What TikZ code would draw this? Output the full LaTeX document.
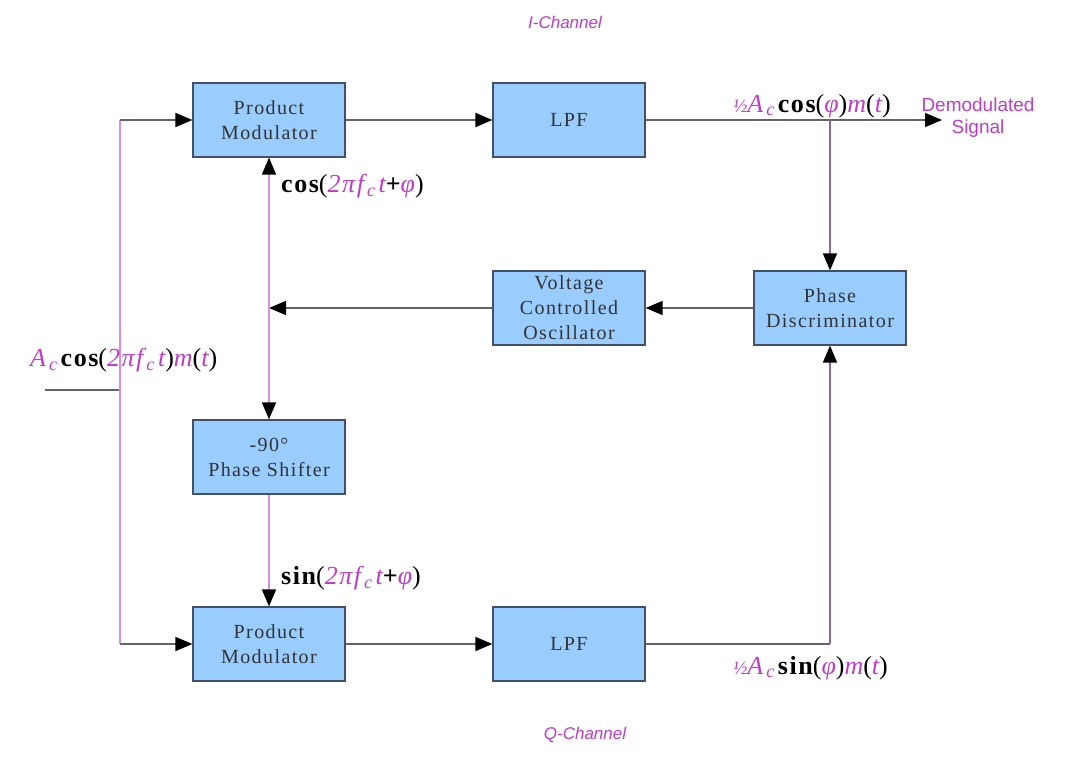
\documentclass[tikz,border=0pt]{standalone}
\usepackage{fontspec}
\setmainfont{Liberation Serif}
\newfontfamily\arialf{Liberation Sans}
\newfontfamily\boxf[LetterSpace=7]{Liberation Serif}
\newfontfamily\labf[LetterSpace=6]{Liberation Serif}
\usetikzlibrary{arrows.meta}
\definecolor{boxfill}{RGB}{153,204,255}
\definecolor{boxline}{RGB}{70,80,100}
\definecolor{pur}{RGB}{190,60,200}
\definecolor{vline}{RGB}{220,140,225}
\definecolor{vlined}{RGB}{140,100,150}
\definecolor{hline}{RGB}{100,100,100}
\tikzset{
  blk/.style={draw=boxline, line width=1.2pt, fill=boxfill, minimum width=152pt, minimum height=74pt, align=center, font=\boxf\fontsize{20}{25}\selectfont, text=black!80, inner sep=0pt},
  arr/.style={-{Triangle[length=17pt,width=14pt,color=black]}},
  hl/.style={draw=hline, line width=1.6pt},
  vl/.style={draw=vline, line width=1.6pt},
  vd/.style={draw=vlined, line width=1.6pt},
  lab/.style={font=\labf\fontsize{26}{28}\selectfont, inner sep=0pt},
  ch/.style={font=\arialf\itshape\fontsize{17}{20}\selectfont, text=pur, inner sep=0pt}
}
\newcommand{\pv}[1]{{\color{pur}\itshape #1}}
\newcommand{\bk}[1]{{\bfseries #1}}
\newcommand{\sbc}{\kern3pt\textsubscript{c}\kern3pt}
\begin{document}
\begin{tikzpicture}[x=1pt,y=-1pt]
\useasboundingbox (0,0) rectangle (1073,762);
\node[blk] (pm1) at (269,120) {Product\\Modulator};
\node[blk] (lpf1) at (569,120) {LPF};
\node[blk] (vco) at (569,308) {Voltage\\Controlled\\Oscillator};
\node[blk] (pd) at (830,308) {Phase\\Discriminator};
\node[blk] (ps) at (269,457) {-90\textdegree\\Phase Shifter};
\node[blk] (pm2) at (269,644) {Product\\Modulator};
\node[blk] (lpf2) at (569,644) {LPF};
\coordinate (in) at (45,390);
\coordinate (j) at (120,390);
\coordinate (jt) at (120,120);
\coordinate (jb) at (120,644);
\coordinate (out) at (942,120);
\coordinate (tap) at (830,120);
\coordinate (corner) at (830,644);
\coordinate (vj) at (269,308);
\draw[hl] (in) -- (j);
\draw[vl] (jt) -- (jb);
\draw[hl,arr] (jt) -- (pm1.west);
\draw[hl,arr] (jb) -- (pm2.west);
\draw[hl,arr] (pm1) -- (lpf1);
\draw[hl,arr] (pm2) -- (lpf2);
\draw[hl,arr] (lpf1.east) -- (out);
\draw[vd,arr] (tap) -- (pd.north);
\draw[hl] (lpf2.east) -- (corner);
\draw[vd,arr] (corner) -- (pd.south);
\draw[hl,arr] (pd.west) -- (vco.east);
\draw[hl,arr] (vco.west) -- (vj);
\draw[vl,arr] (vj) -- (pm1.south);
\draw[vl,arr] (vj) -- (ps.north);
\draw[vl,arr] (ps.south) -- (pm2.north);
\node[lab, anchor=west] (lc) at (281,186) {\bk{cos}(\pv{2πf\sbc t}\bk{+}\pv{φ})};
\node[lab, anchor=west] (ls) at (281,578) {\bk{sin}(\pv{2πf\sbc t}\bk{+}\pv{φ})};
\node[lab, anchor=west] (li) at (30,360) {\pv{A\sbc}\bk{cos}(\pv{2πf\sbc t})\pv{m}(\pv{t})};
\node[lab, anchor=west] (lo) at (733,106) {\pv{{\fontsize{19}{20}\selectfont½}A\sbc}\bk{cos}(\pv{φ})\pv{m}(\pv{t})};
\node[lab, anchor=west] (lq) at (733,668) {\pv{{\fontsize{19}{20}\selectfont½}A\sbc}\bk{sin}(\pv{φ})\pv{m}(\pv{t})};
\node[font=\arialf\fontsize{19}{22}\selectfont, text=pur, align=center, inner sep=0pt] (dem) at (978,118) {Demodulated\\Signal};
\node[ch] (ich) at (565,22) {I-Channel};
\node[ch] (qch) at (585,735) {Q-Channel};
\end{tikzpicture}
\end{document}
